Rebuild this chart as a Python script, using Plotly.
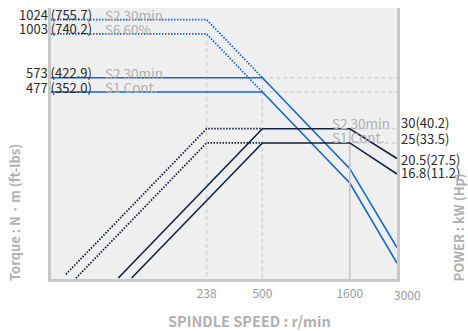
import numpy as np
import plotly.graph_objects as go

# -----------------------------
# Data
# -----------------------------
speed_ticks = [238, 500, 1600]
speed_tick_text = ["238", "500", "1600"]
speed_max_label = "3000"

# torque curves (N·m), left axis
torque_s2_speed = [30, 500, 1600, 3000]
torque_s2 = [573, 573, 179, 65.3]
torque_s1_speed = [30, 500, 1600, 3000]
torque_s1 = [477, 477, 149, 53.5]
torque_s2_low_speed = [30, 238, 500]
torque_s2_low = [1204, 1204, 573]
torque_s6_low_speed = [30, 238, 500]
torque_s6_low = [1003, 1003, 477]

# power curves (kW), right axis
power_s2_speed = [73.5, 500, 1600, 3000]
power_s2 = [4.44, 30, 30, 20.5]
power_s1_speed = [87.8, 500, 1600, 3000]
power_s1 = [4.44, 25, 25, 16.8]
power_s2_low_speed = [36.6, 238, 500]
power_s2_low = [4.66, 30, 30]
power_s6_low_speed = [41.8, 238, 500]
power_s6_low = [4.43, 25, 25]

# labels
torque_levels = [1204, 1003, 573, 477]
torque_labels = ["1024 (755.7)", "1003 (740.2)", "573 (422.9)", "477 (352.0)"]
torque_duty = ["S2 30min", "S6 60%", "S2 30min", "S1 Cont."]

power_levels = [30, 25, 20.5, 16.8]
power_labels = ["30(40.2)", "25(33.5)", "20.5(27.5)", "16.8(11.2)"]
power_duty = ["S2 30min", "S1 Cont."]

# axis ranges (log10)
x_range = [np.log10(30), np.log10(3000)]
torque_range = [1.6398, 3.1454]
power_range = [0.6421, 2.1477]

FONT = "Noto Sans CJK KR"
BLUE = "#1668c0"
NAVY = "#13223f"
GRID = "#d3d3d3"
DOT = "1.5px,1.5px"

fig = go.Figure()

t_bottom = 10 ** torque_range[0]
p_bottom = 10 ** power_range[0]

# -----------------------------
# Reference lines
# -----------------------------
ref_dash = dict(color=GRID, width=1.5, dash="4px,3px")
fig.add_trace(go.Scatter(x=[238, 238], y=[torque_s6_low[0], t_bottom * 0.5],
                         mode="lines", line=ref_dash, yaxis="y"))
fig.add_trace(go.Scatter(x=[500, 500], y=[torque_s2[1], t_bottom * 0.5],
                         mode="lines", line=ref_dash, yaxis="y"))
fig.add_trace(go.Scatter(x=[500, 3000], y=[torque_s2[1], torque_s2[1]],
                         mode="lines", line=ref_dash, yaxis="y"))
fig.add_trace(go.Scatter(x=[500, 3000], y=[torque_s1[1], torque_s1[1]],
                         mode="lines", line=ref_dash, yaxis="y"))
fig.add_trace(go.Scatter(x=[1600, 3000], y=[power_s2[2], power_s2[2]],
                         mode="lines", line=ref_dash, yaxis="y2"))
fig.add_trace(go.Scatter(x=[1600, 3000], y=[power_s1[2], power_s1[2]],
                         mode="lines", line=ref_dash, yaxis="y2"))
fig.add_trace(go.Scatter(x=[1600, 1600], y=[power_s2[2], p_bottom * 0.5],
                         mode="lines", line=dict(color="#c4c4c4", width=1.5), yaxis="y2"))

# -----------------------------
# Torque curves
# -----------------------------
fig.add_trace(go.Scatter(x=torque_s2_low_speed, y=torque_s2_low, mode="lines",
                         line=dict(color=BLUE, width=1.8, dash=DOT), yaxis="y"))
fig.add_trace(go.Scatter(x=torque_s6_low_speed, y=torque_s6_low, mode="lines",
                         line=dict(color=BLUE, width=1.8, dash=DOT), yaxis="y"))
fig.add_trace(go.Scatter(x=torque_s2_speed, y=torque_s2, mode="lines",
                         line=dict(color=BLUE, width=1.6), yaxis="y"))
fig.add_trace(go.Scatter(x=torque_s1_speed, y=torque_s1, mode="lines",
                         line=dict(color=BLUE, width=1.6), yaxis="y"))

# -----------------------------
# Power curves
# -----------------------------
fig.add_trace(go.Scatter(x=power_s2_low_speed, y=power_s2_low, mode="lines",
                         line=dict(color=NAVY, width=1.8, dash=DOT), yaxis="y2"))
fig.add_trace(go.Scatter(x=power_s6_low_speed, y=power_s6_low, mode="lines",
                         line=dict(color=NAVY, width=1.8, dash=DOT), yaxis="y2"))
fig.add_trace(go.Scatter(x=power_s2_speed, y=power_s2, mode="lines",
                         line=dict(color=NAVY, width=1.6), yaxis="y2"))
fig.add_trace(go.Scatter(x=power_s1_speed, y=power_s1, mode="lines",
                         line=dict(color=NAVY, width=1.6), yaxis="y2"))

# -----------------------------
# Annotations
# -----------------------------
ann = []
for lvl, lab, duty in zip(torque_levels, torque_labels, torque_duty):
    ann.append(dict(xref="paper", yref="y", x=0, y=np.log10(lvl), xshift=42,
                    yshift=5, xanchor="right", yanchor="middle", showarrow=False,
                    borderpad=0, text=lab, font=dict(size=13, color="#2a2a2a")))
    ann.append(dict(xref="paper", yref="y", x=0, y=np.log10(lvl), xshift=53,
                    yshift=5, xanchor="left", yanchor="middle", showarrow=False,
                    borderpad=0, text=duty, font=dict(size=13.5, color="#b0b0b0")))

p_shifts = [6, 4, -1.5, 1.3]
for lvl, lab, ys in zip(power_levels, power_labels, p_shifts):
    ann.append(dict(xref="paper", yref="y2", x=1, y=np.log10(lvl), xshift=3,
                    yshift=ys, xanchor="left", yanchor="middle", showarrow=False,
                    borderpad=0, text=lab, font=dict(size=13, color="#2a2a2a")))

for lvl, duty in zip(power_levels[:2], power_duty):
    ann.append(dict(xref="paper", yref="y2", x=0.81, y=np.log10(lvl),
                    yshift=6, xanchor="left", yanchor="middle", showarrow=False,
                    borderpad=0, text=duty, font=dict(size=13.5, color="#b0b0b0")))

# 3000 tick label sits right of the axis end
ann.append(dict(xref="paper", yref="paper", x=1, y=0, xshift=10, yshift=-15,
                xanchor="center", yanchor="middle", showarrow=False,
                text=speed_max_label, font=dict(size=12, color="#9a9a9a")))

# axis titles
title_font = dict(size=13, color="#b0b0b0", family=FONT)
ann.append(dict(xref="paper", yref="paper", x=0, y=0.2435, xshift=-37,
                xanchor="center", yanchor="middle", textangle=-90, showarrow=False,
                borderpad=0, text="<b>Torque : N · m (ft-lbs)</b>", font=title_font))
ann.append(dict(xref="paper", yref="paper", x=1, y=0.19, xshift=62,
                xanchor="center", yanchor="middle", textangle=-90, showarrow=False,
                borderpad=0, text="<b>POWER : kW (Hp)</b>", font=title_font))
ann.append(dict(xref="paper", yref="paper", x=0.574, y=0, yshift=-41,
                xanchor="center", yanchor="middle", showarrow=False,
                text="<b>SPINDLE SPEED : r/min</b>", font=dict(size=14.5, color="#b0b0b0", family=FONT)))

fig.update_layout(
    width=468, height=331,
    margin=dict(l=51, r=71, t=8, b=52),
    paper_bgcolor="white",
    plot_bgcolor="#efefef",
    showlegend=False,
    font=dict(family=FONT, size=12, color="#2a2a2a"),
    annotations=ann,
    xaxis=dict(type="log", range=x_range, showgrid=False, zeroline=False,
               tickvals=speed_ticks, ticktext=speed_tick_text, ticks="",
               ticklabelstandoff=2,
               tickfont=dict(size=12, color="#9a9a9a"),
               showline=True, linecolor="#c8c8c8", linewidth=2.5),
    yaxis=dict(type="log", range=torque_range, showgrid=False, zeroline=False,
               showticklabels=False, ticks="",
               showline=True, linecolor="#c8c8c8", linewidth=2.5),
    yaxis2=dict(type="log", range=power_range, overlaying="y", side="right",
                showgrid=False, zeroline=False, showticklabels=False, ticks="",
                showline=True, linecolor="#c8c8c8", linewidth=2.5),
)

# drop the default 8px page margin so the figure fills the window
fig.write_html("out.html", config={"displayModeBar": False},
               post_script="document.body.style.margin='0';")
